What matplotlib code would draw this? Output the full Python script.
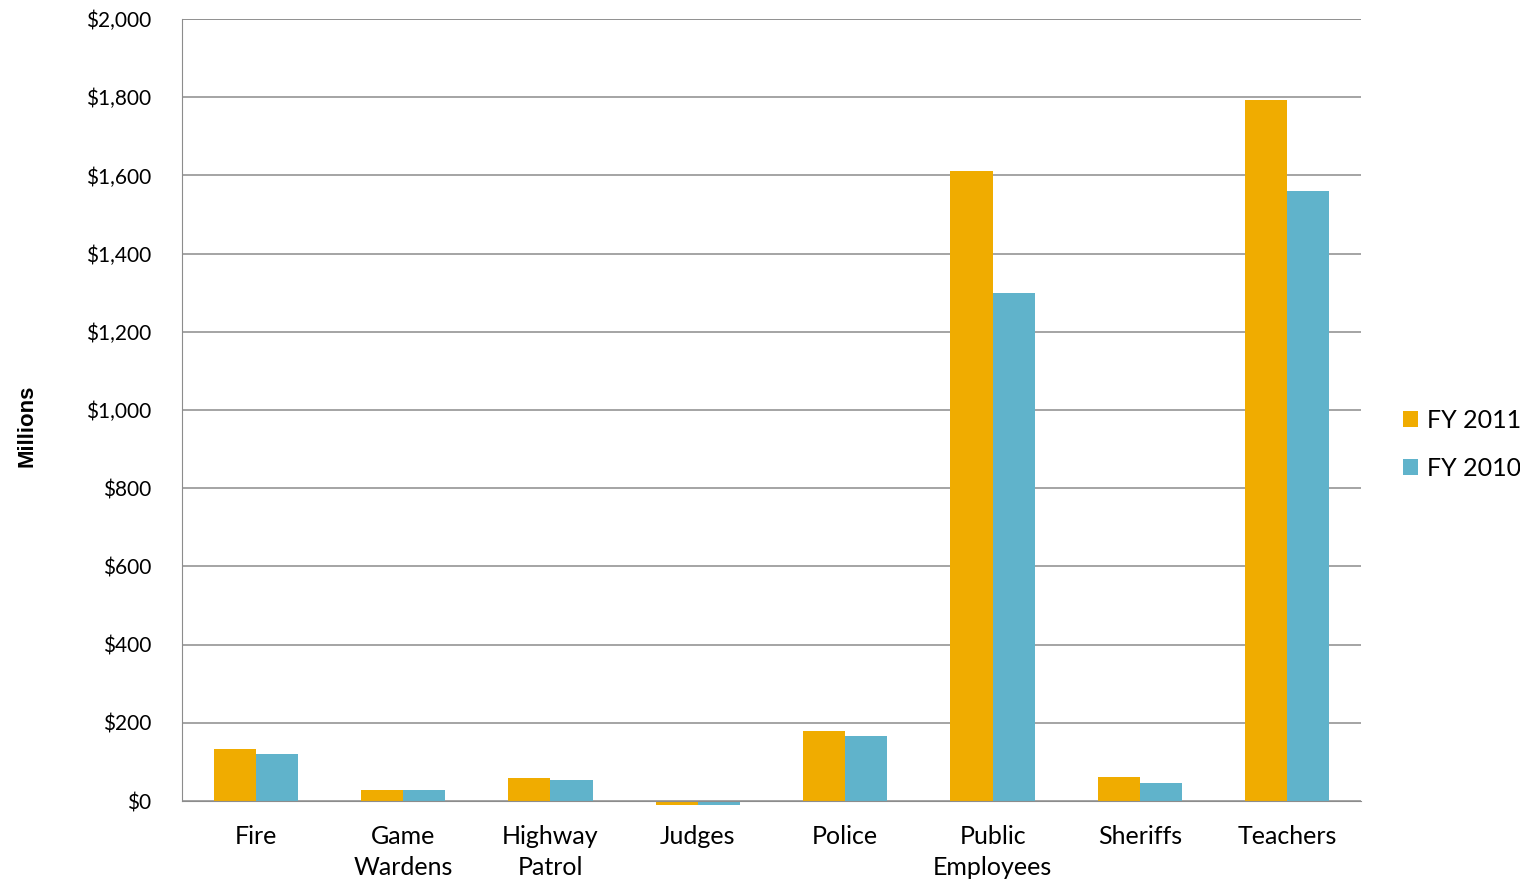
import matplotlib
matplotlib.use("Agg")
import matplotlib.pyplot as plt
import numpy as np

categories = ["Fire", "Game\nWardens", "Highway\nPatrol", "Judges", "Police",
              "Public\nEmployees", "Sheriffs", "Teachers"]
fy2011 = [133, 28, 59, -10, 179, 1610, 61, 1793]
fy2010 = [120, 28, 54, -10, 166, 1300, 45, 1560]
yticks = [0, 200, 400, 600, 800, 1000, 1200, 1400, 1600, 1800, 2000]

orange = "#F0AC00"
blue = "#60B3CB"
grid = "#8C8C8C"
font = ["Lato", "DejaVu Sans"]

fig = plt.figure(figsize=(15.2, 8.85), dpi=100)
ax = fig.add_axes([182 / 1520, 1 - 801 / 885, (1361 - 182) / 1520, (801 - 19) / 885])

x = np.arange(len(categories))
w = 1 / 3.5
b1 = ax.bar(x - w / 2, fy2011, w, color=orange, label="FY 2011", zorder=3, clip_on=False)
b2 = ax.bar(x + w / 2, fy2010, w, color=blue, label="FY 2010", zorder=3, clip_on=False)

ax.set_xlim(-0.5, len(categories) - 0.5)
ax.set_ylim(0, 2000)
ax.set_yticks(yticks)
ax.set_yticklabels([f"${v:,}" for v in yticks], family=font, fontsize=15)
ax.set_xticks(x)
ax.set_xticklabels(categories, family=font, fontsize=18, linespacing=1.45)
ax.tick_params(length=0)
ax.tick_params(axis="y", pad=22)
ax.tick_params(axis="x", pad=17)

ax.grid(axis="y", color=grid, linewidth=1.1, zorder=0)
for side in ["top", "right"]:
    ax.spines[side].set_visible(False)
ax.spines["left"].set_color(grid)
ax.spines["bottom"].set_color(grid)
ax.spines["bottom"].set_zorder(4)
ax.axhline(2000, color=grid, linewidth=1.1, zorder=0)

fig.text(27 / 1520, 1 - 426 / 885, "Millions", rotation=90, ha="center", va="center",
         family=["Liberation Sans", "DejaVu Sans"], fontsize=16, fontweight="bold")

fig.legend(handles=[b1, b2], loc="center left", bbox_to_anchor=(1403 / 1520, 1 - 444 / 885),
           frameon=False, prop={"family": font, "size": 18}, handlelength=0.6,
           handleheight=0.6, handletextpad=0.35, labelspacing=1.0,
           borderpad=0, borderaxespad=0)

fig.savefig("out.png", dpi=100)
